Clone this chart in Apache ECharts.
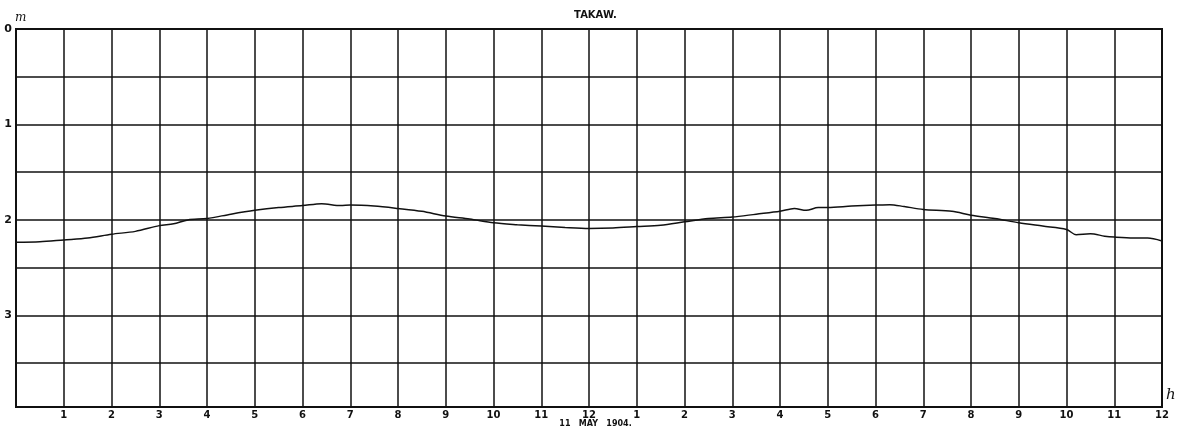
<!DOCTYPE html>
<html>
<head>
<meta charset="utf-8">
<script src="https://cdn.jsdelivr.net/npm/echarts@6/dist/echarts.min.js"></script>
<style>
html,body{margin:0;padding:0;background:#fff;}
#chart{width:1191px;height:431px;}
</style>
</head>
<body>
<div id="chart"></div>
<script>
// Tide record, Takaw, 11 May 1904 (hours from 0h, sea level in metres, axis downward)
const hours = [0.0,0.5,1.0,1.5,2.0,2.5,3.0,3.3,3.6,4.0,4.5,5.0,5.5,6.0,6.4,6.8,7.0,7.5,8.0,8.5,9.0,9.5,10.0,10.5,11.0,11.5,12.0,12.5,13.0,13.5,14.0,14.5,15.0,15.5,16.0,16.3,16.55,16.8,17.0,17.5,18.0,18.3,18.6,19.0,19.6,20.0,20.5,21.0,21.5,22.0,22.2,22.5,22.8,23.0,23.4,23.7,24.0];
const level = [2.235,2.23,2.21,2.19,2.15,2.12,2.06,2.04,2.00,1.985,1.94,1.90,1.87,1.85,1.83,1.85,1.845,1.855,1.88,1.91,1.96,1.99,2.03,2.05,2.065,2.08,2.09,2.085,2.07,2.055,2.02,1.985,1.97,1.94,1.91,1.88,1.90,1.87,1.87,1.855,1.845,1.84,1.86,1.89,1.91,1.95,1.985,2.03,2.065,2.10,2.155,2.145,2.17,2.18,2.19,2.19,2.22];
const xTickLabels = ['','1','2','3','4','5','6','7','8','9','10','11','12','1','2','3','4','5','6','7','8','9','10','11','12'];
const yTickLabels = {0:'0',1:'1',2:'2',3:'3'};
const titleText = 'TAKAW.';
const dateText = '11   MAY   1904.';

const chart = echarts.init(document.getElementById('chart'), null, {renderer:'canvas'});
const ink = '#111';
chart.setOption({
  animation:false,
  backgroundColor:'#fff',
  title:{text:titleText,left:'center',top:5,textStyle:{fontFamily:'DejaVu Sans',fontSize:10,fontWeight:'bold',color:ink}},
  grid:{left:16,right:29,top:29,bottom:24,show:true,borderColor:ink,borderWidth:2,backgroundColor:'transparent'},
  xAxis:{type:'value',min:0,max:24,interval:1,
    axisLine:{show:true,lineStyle:{color:ink,width:2}},
    axisTick:{show:false},
    axisLabel:{margin:3,fontFamily:'DejaVu Sans',fontSize:10,fontWeight:'bold',color:ink,
      formatter:v=>xTickLabels[Math.round(v)]||''},
    splitLine:{show:true,lineStyle:{color:ink,width:1.5}}},
  yAxis:{type:'value',inverse:true,min:0,max:3.96,interval:0.5,
    axisLine:{show:true,lineStyle:{color:ink,width:2}},
    axisTick:{show:false},
    axisLabel:{margin:4,fontFamily:'DejaVu Sans',fontSize:11,fontWeight:'bold',color:ink,
      formatter:v=>(yTickLabels[v]!==undefined?yTickLabels[v]:'')},
    splitLine:{show:true,lineStyle:{color:ink,width:1.5}}},
  series:[{type:'line',data:hours.map((h,i)=>[h,level[i]]),showSymbol:false,smooth:0.3,
    lineStyle:{color:ink,width:1.5}}],
  graphic:[
    {type:'text',left:15,top:12,style:{text:'m',font:'italic 12px "DejaVu Serif"',fill:ink}},
    {type:'text',left:1166,top:388,style:{text:'h',font:'italic 15px "DejaVu Serif"',fill:ink}},
    {type:'text',left:'center',top:420,style:{text:dateText,font:'bold 8px "DejaVu Sans"',fill:ink}}
  ]
});
</script>
</body>
</html>
